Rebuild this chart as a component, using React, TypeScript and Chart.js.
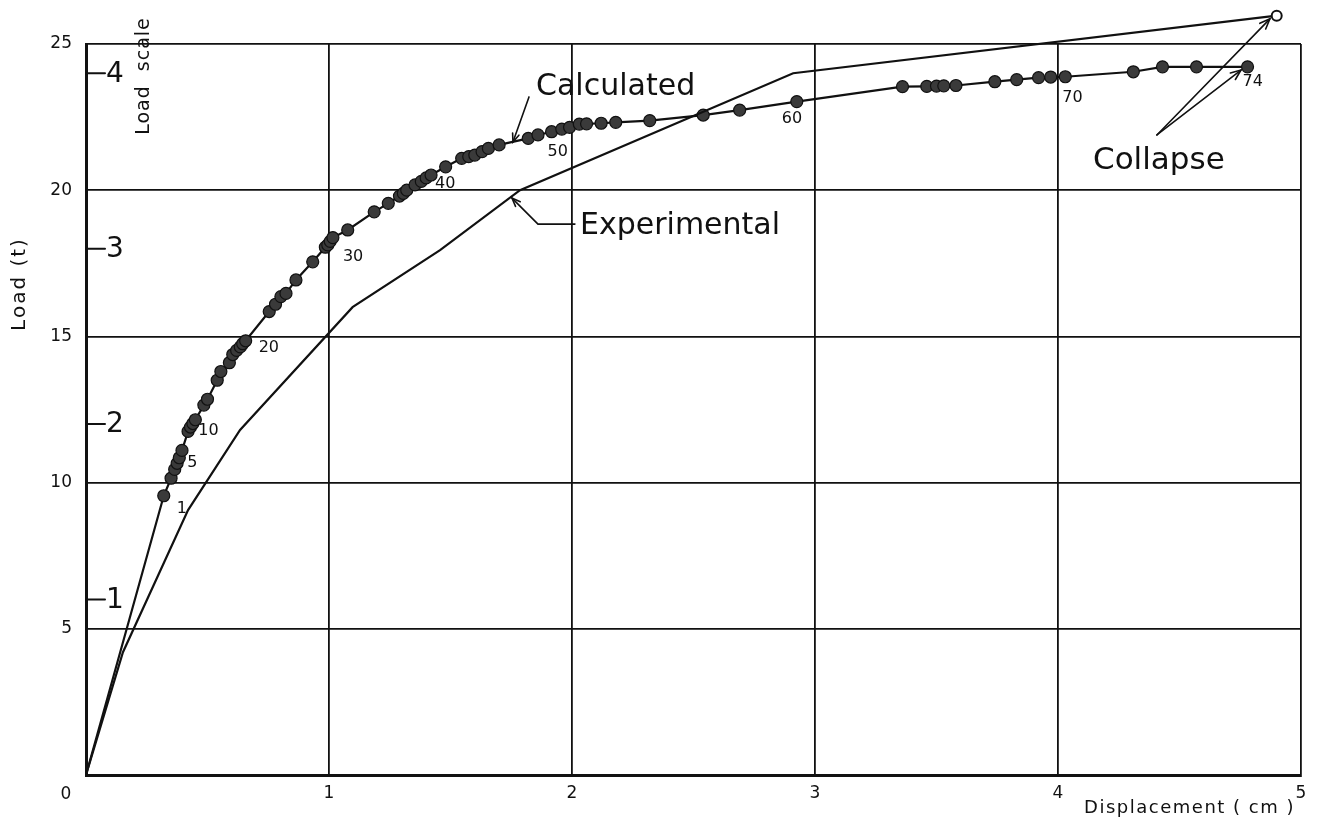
import React, { useEffect, useRef } from 'react';
import { Chart, registerables } from 'chart.js';

Chart.register(...registerables);

// ---- Data ----
// Calculated load-displacement path (index 0 = origin, index n = load step n)
const calcX = [
  0, 0.32, 0.35, 0.365, 0.375, 0.384, 0.395, 0.42, 0.43, 0.44, 0.45,
  0.485, 0.5, 0.54, 0.555, 0.59, 0.604, 0.62, 0.635, 0.645, 0.657,
  0.754, 0.78, 0.802, 0.823, 0.864, 0.933, 0.985, 0.995, 1.005, 1.016,
  1.077, 1.186, 1.244, 1.29, 1.306, 1.32, 1.354, 1.38, 1.4, 1.42,
  1.48, 1.546, 1.575, 1.6, 1.63, 1.656, 1.7, 1.82, 1.86, 1.916,
  1.958, 1.99, 2.03, 2.06, 2.12, 2.18, 2.32, 2.54, 2.69, 2.925,
  3.36, 3.46, 3.5, 3.53, 3.58, 3.74, 3.83, 3.92, 3.97, 4.03,
  4.31, 4.43, 4.57, 4.78,
];
const calcY = [
  0, 9.55, 10.15, 10.45, 10.66, 10.85, 11.1, 11.75, 11.9, 12.02, 12.15,
  12.65, 12.85, 13.5, 13.8, 14.1, 14.38, 14.52, 14.64, 14.75, 14.85,
  15.85, 16.1, 16.36, 16.47, 16.93, 17.55, 18.05, 18.13, 18.25, 18.38,
  18.64, 19.26, 19.55, 19.8, 19.89, 20.0, 20.18, 20.3, 20.42, 20.52,
  20.8, 21.09, 21.15, 21.2, 21.32, 21.43, 21.55, 21.77, 21.89, 22.0,
  22.09, 22.15, 22.26, 22.27, 22.29, 22.32, 22.38, 22.57, 22.74, 23.03,
  23.54, 23.55, 23.56, 23.57, 23.58, 23.71, 23.78, 23.85, 23.87, 23.88,
  24.05, 24.22, 24.22, 24.22,
];
// Experimental curve (last point = collapse)
const expX = [0, 0.152, 0.42, 0.634, 1.097, 1.457, 1.786, 2.91, 4.9];
const expY = [0, 4.2, 9.06, 11.8, 16.0, 17.95, 20.0, 24.0, 25.97];

const xTickValues = [0, 1, 2, 3, 4, 5];
const yTickValues = [0, 5, 10, 15, 20, 25];
const loadScaleTicks = [1, 2, 3, 4];
const TONS_PER_LOAD_UNIT = 6;
const numberedSteps = [1, 5, 10, 20, 30, 40, 50, 60, 70, 74];

// ---- Styling / placement (not data) ----
const FONT = '"DejaVu Sans", sans-serif';
const INK = '#111111';
const stepLabelOffsets: Record<number, [number, number]> = {
  1: [13, 13], 5: [8, 5], 10: [3, 11], 20: [13, 7], 30: [10, 19],
  40: [4, 9], 50: [-4, 20], 60: [-15, 17], 70: [-3, 21], 74: [-5, 15],
};

function arrowHead(ctx: CanvasRenderingContext2D, x1: number, y1: number, x2: number, y2: number, head = 9) {
  const a = Math.atan2(y2 - y1, x2 - x1);
  ctx.beginPath();
  ctx.moveTo(x2 - head * Math.cos(a - 0.38), y2 - head * Math.sin(a - 0.38));
  ctx.lineTo(x2, y2);
  ctx.lineTo(x2 - head * Math.cos(a + 0.38), y2 - head * Math.sin(a + 0.38));
  ctx.stroke();
}
function arrow(ctx: CanvasRenderingContext2D, x1: number, y1: number, x2: number, y2: number, head = 9) {
  ctx.beginPath();
  ctx.moveTo(x1, y1);
  ctx.lineTo(x2, y2);
  ctx.stroke();
  arrowHead(ctx, x1, y1, x2, y2, head);
}

const annotationPlugin = {
  id: 'annotations',
  afterDatasetsDraw(chart: any) {
    const { ctx, chartArea } = chart;
    const xs = chart.scales.x;
    const ys = chart.scales.y;
    const X = (v: number) => xs.getPixelForValue(v);
    const Y = (v: number) => ys.getPixelForValue(v);
    ctx.save();
    ctx.strokeStyle = INK;
    ctx.fillStyle = INK;
    ctx.lineCap = 'round';

    // collapse marker (open circle at end of experimental curve, above the grid)
    const last = expX.length - 1;
    ctx.beginPath();
    ctx.arc(X(expX[last]), Y(expY[last]), 5, 0, Math.PI * 2);
    ctx.fillStyle = '#ffffff';
    ctx.fill();
    ctx.lineWidth = 2;
    ctx.stroke();
    ctx.fillStyle = INK;

    // inner "Load scale" axis
    ctx.lineWidth = 2;
    ctx.font = `28px ${FONT}`;
    ctx.textAlign = 'left';
    ctx.textBaseline = 'middle';
    for (const t of loadScaleTicks) {
      const py = Y(t * TONS_PER_LOAD_UNIT);
      ctx.beginPath();
      ctx.moveTo(chartArea.left, py);
      ctx.lineTo(chartArea.left + 19, py);
      ctx.stroke();
      ctx.fillText(String(t), chartArea.left + 20, py + 1);
    }
    ctx.save();
    ctx.translate(chartArea.left + 58, chartArea.top + 32);
    ctx.rotate(-Math.PI / 2);
    ctx.font = `19px ${FONT}`;
    ctx.textAlign = 'center';
    (ctx as any).letterSpacing = '1px';
    ctx.fillText('Load  scale', 0, 0);
    ctx.restore();

    // y-axis title
    ctx.save();
    ctx.translate(20, 284);
    ctx.rotate(-Math.PI / 2);
    ctx.font = `20px ${FONT}`;
    ctx.textAlign = 'center';
    (ctx as any).letterSpacing = '2px';
    ctx.fillText('Load (t)', 0, 0);
    ctx.restore();

    // shared origin label
    ctx.font = `17px ${FONT}`;
    ctx.textAlign = 'center';
    ctx.fillText('0', X(0) - 20, Y(0) + 20);

    // x-axis title
    ctx.save();
    ctx.font = `18px ${FONT}`;
    ctx.textAlign = 'right';
    (ctx as any).letterSpacing = '1.5px';
    ctx.fillText('Displacement ( cm )', X(5) - 6, Y(0) + 33);
    ctx.restore();

    // step numbers
    ctx.font = `16px ${FONT}`;
    ctx.textAlign = 'left';
    for (const n of numberedSteps) {
      const [dx, dy] = stepLabelOffsets[n];
      ctx.fillText(String(n), X(calcX[n]) + dx, Y(calcY[n]) + dy);
    }

    // "Calculated"
    ctx.lineWidth = 1.6;
    ctx.font = `30px ${FONT}`;
    ctx.fillText('Calculated', X(1.852), Y(23.53));
    arrow(ctx, X(1.823), Y(23.19), X(1.757), Y(21.65), 9);

    // "Experimental"
    ctx.fillText('Experimental', X(2.033), Y(18.78));
    ctx.beginPath();
    ctx.moveTo(X(2.012), Y(18.84));
    ctx.lineTo(X(1.86), Y(18.84));
    ctx.lineTo(X(1.753), Y(19.73));
    ctx.stroke();
    arrowHead(ctx, X(1.86), Y(18.84), X(1.753), Y(19.73), 9);

    // "Collapse"
    ctx.font = `31px ${FONT}`;
    ctx.fillText('Collapse', X(4.144), Y(21.0));
    arrow(ctx, X(4.407), Y(21.89), X(4.872), Y(25.86), 11);
    arrow(ctx, X(4.407), Y(21.89), X(4.753), Y(24.11), 11);

    ctx.restore();
  },
};

export default function App() {
  const canvasRef = useRef<HTMLCanvasElement | null>(null);

  useEffect(() => {
    if (!canvasRef.current) return;
    const calcData = calcX.map((x, i) => ({ x, y: calcY[i] }));
    const expData = expX.map((x, i) => ({ x, y: expY[i] }));

    const chart = new Chart(canvasRef.current, {
      type: 'scatter',
      data: {
        datasets: [
          {
            label: 'Experimental',
            data: expData,
            showLine: true,
            borderColor: INK,
            borderWidth: 2.2,
            pointRadius: 0,
            clip: false,
          } as any,
          {
            label: 'Calculated',
            data: calcData,
            showLine: true,
            borderColor: INK,
            borderWidth: 2.2,
            pointRadius: (c: any) => (c.dataIndex === 0 ? 0 : 6),
            pointBackgroundColor: '#3a3a3a',
            pointBorderColor: '#111111',
            pointBorderWidth: 1.2,
            clip: false,
          } as any,
        ],
      },
      options: {
        animation: false,
        responsive: true,
        maintainAspectRatio: false,
        layout: { padding: { top: 44, right: 19, left: 0, bottom: 0 } },
        plugins: {
          legend: { display: false },
          tooltip: { enabled: false },
        },
        scales: {
          x: {
            type: 'linear',
            min: xTickValues[0],
            max: xTickValues[xTickValues.length - 1],
            afterBuildTicks: (s: any) => {
              s.ticks = xTickValues.map((v) => ({ value: v }));
            },
            ticks: {
              color: INK,
              font: { family: FONT, size: 17 },
              padding: 8,
              maxRotation: 0,
              callback: (v: any) => (Number(v) === 0 ? '' : String(v)),
            },
            grid: { color: '#111111', lineWidth: 1.8, drawTicks: false },
            border: { display: true, color: INK, width: 3 },
            afterFit: (s: any) => {
              s.height = 48;
            },
          },
          y: {
            type: 'linear',
            min: yTickValues[0],
            max: yTickValues[yTickValues.length - 1],
            afterBuildTicks: (s: any) => {
              s.ticks = yTickValues.map((v) => ({ value: v }));
            },
            ticks: {
              color: INK,
              font: { family: FONT, size: 17 },
              padding: 14,
              callback: (v: any) => (Number(v) === 0 ? '' : String(v)),
            },
            grid: { color: '#111111', lineWidth: 1.8, drawTicks: false },
            border: { display: true, color: INK, width: 3 },
            afterFit: (s: any) => {
              s.width = 86;
            },
          },
        },
      },
      plugins: [annotationPlugin],
    } as any);

    return () => chart.destroy();
  }, []);

  return (
    <div
      style={{
        position: 'fixed',
        left: 0,
        top: 0,
        width: 1320,
        height: 823,
        background: '#ffffff',
      }}
    >
      <canvas ref={canvasRef} />
    </div>
  );
}
